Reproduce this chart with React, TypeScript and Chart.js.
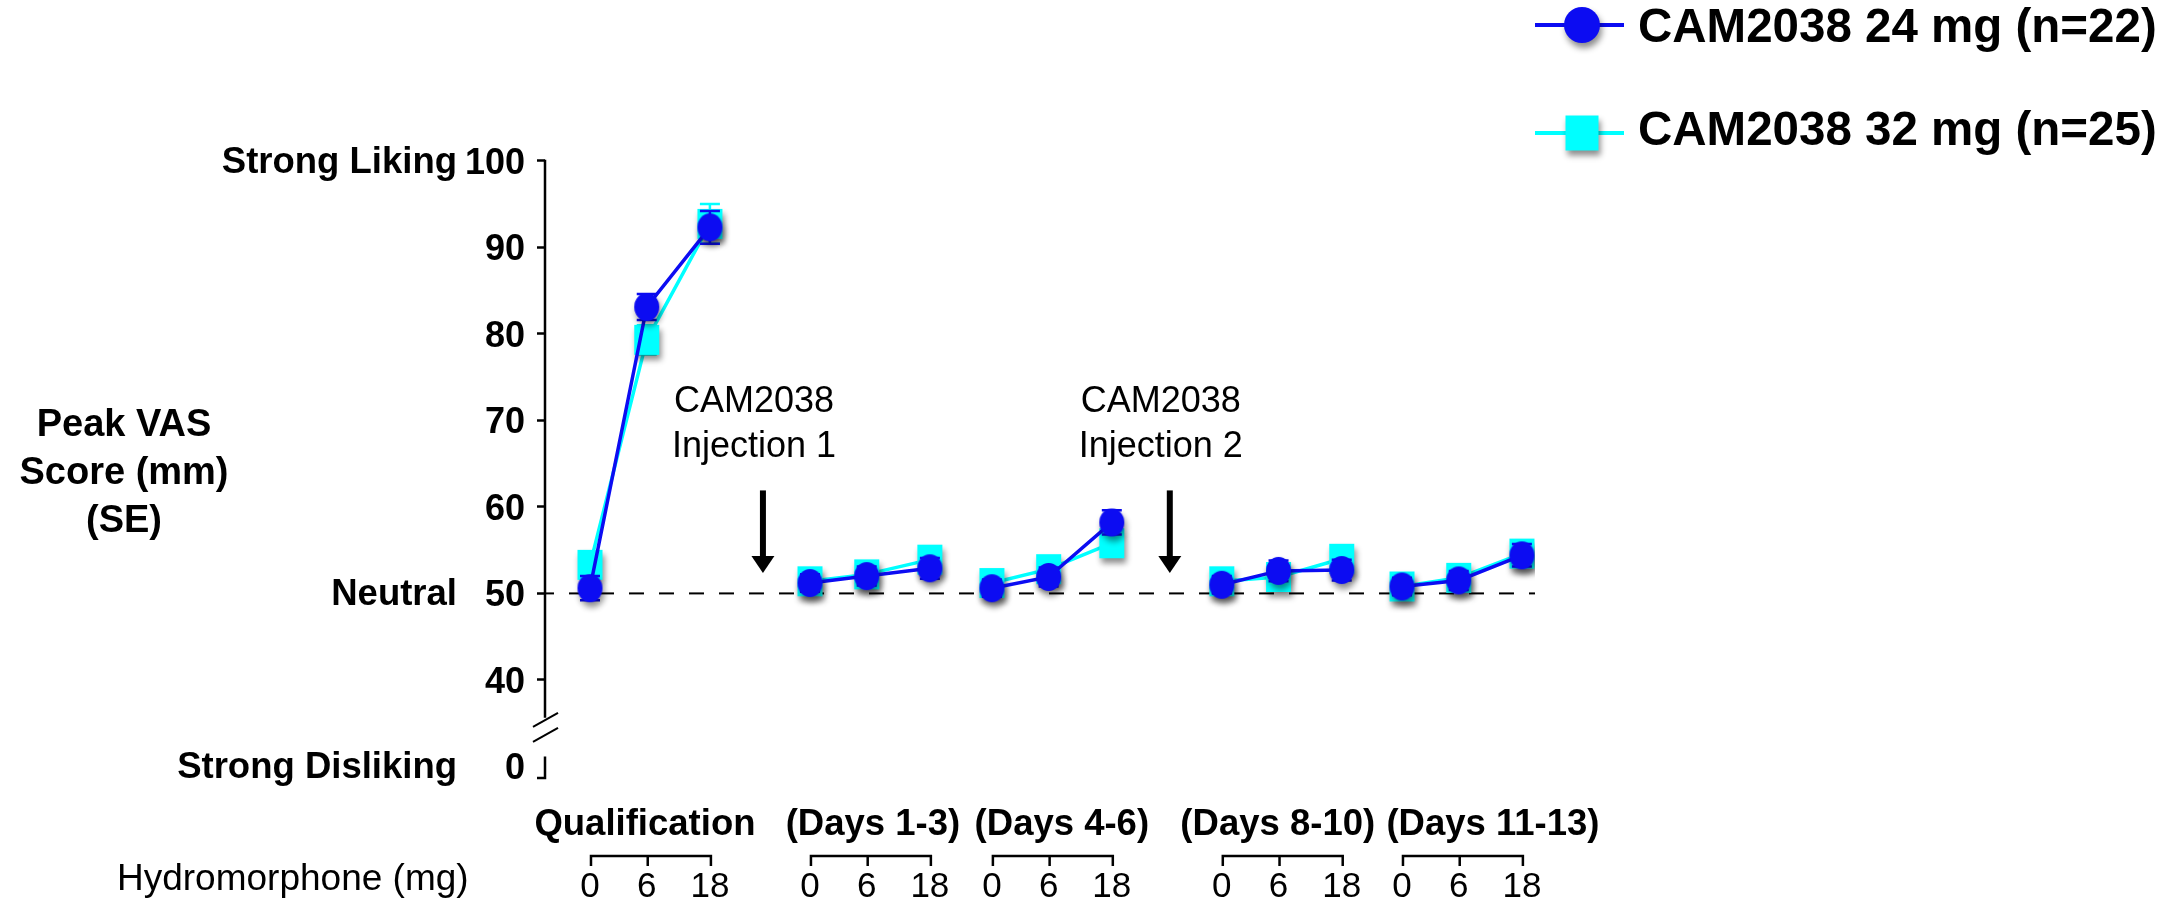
import React, { useEffect, useRef } from 'react';
import { Chart, registerables } from 'chart.js';

Chart.register(...registerables);

// ---------------- data ----------------
const seriesLabels = ['CAM2038 24 mg (n=22)', 'CAM2038 32 mg (n=25)'];
const groupLabels = ['Qualification', '(Days 1-3)', '(Days 4-6)', '(Days 8-10)', '(Days 11-13)'];
const doseLabels = ['0', '6', '18'];
// timeline slot of each session block and of each dose inside a block
const groupStart = [0, 3.76, 6.87, 10.8, 13.88];
const doseStep = [0, 0.97, 2.05];

const mean24 = [50.6, 83.1, 92.3, 51.2, 52.0, 52.9, 50.6, 51.9, 58.2, 51.0, 52.6, 52.7, 50.8, 51.5, 54.4];
const se24 = [1.4, 1.5, 1.9, 1.0, 1.1, 1.2, 1.0, 1.1, 1.4, 1.0, 1.2, 1.2, 1.0, 1.1, 1.3];
const mean32 = [53.3, 79.3, 92.7, 51.4, 52.2, 53.9, 51.2, 52.8, 55.8, 51.4, 51.9, 54.0, 50.8, 51.8, 54.6];
const se32 = [1.5, 1.7, 2.3, 1.1, 1.1, 1.3, 1.0, 1.2, 1.4, 1.1, 1.2, 1.3, 1.0, 1.1, 1.3];

const yTicks = [40, 50, 60, 70, 80, 90, 100];
const yAxisTitle = ['Peak VAS', 'Score (mm)', '(SE)'];
const sideLabels = ['Strong Liking', 'Neutral', 'Strong Disliking'];
const xAxisTitle = 'Hydromorphone (mg)';
const injectionText = [['CAM2038', 'Injection 1'], ['CAM2038', 'Injection 2']];
const injectionAfterGroup = [0, 2];
const neutralValue = 50;

// axis break: the "0" tick sits below the break
const yMin = 28.67;
const zeroTickAt = 30.06;
const breakTop = 35.4;
const breakBottom = 32.3;

// ---------------- style ----------------
const FAM = "'Liberation Sans', Arial, Helvetica, sans-serif";
const BLUE = '#0c0cf2';
const CYAN = '#00ffff';

function makeMarker(shape: string, w: number, h: number, color: string) {
  const pad = 12;
  const c = document.createElement('canvas');
  c.width = Math.round(w + pad * 2);
  c.height = Math.round(h + pad * 2);
  const g = c.getContext('2d')!;
  g.shadowColor = 'rgba(0,0,0,0.45)';
  g.shadowBlur = 6;
  g.shadowOffsetX = 2;
  g.shadowOffsetY = 5;
  g.fillStyle = color;
  if (shape === 'ellipse') {
    g.beginPath();
    g.ellipse(c.width / 2, c.height / 2, w / 2, h / 2, 0, 0, Math.PI * 2);
    g.fill();
  } else {
    g.fillRect(c.width / 2 - w / 2, c.height / 2 - h / 2, w, h);
  }
  return c;
}

function buildSeries(means: number[], ses: number[]) {
  const pts: any[] = [];
  groupLabels.forEach((_, g) => {
    doseLabels.forEach((__, d) => {
      const i = g * 3 + d;
      pts.push({ x: groupStart[g] + doseStep[d], y: means[i], se: ses[i] });
    });
    pts.push({ x: groupStart[g] + doseStep[2] + 0.4, y: null });
  });
  return pts;
}

const tickPositions: number[] = [];
groupStart.forEach((g) => doseStep.forEach((d) => tickPositions.push(g + d)));

const errorBarPlugin = {
  id: 'errorBars',
  beforeDatasetDraw(chart: any, args: any) {
    const ds = chart.data.datasets[args.index];
    const { ctx } = chart;
    const xs = chart.scales.x;
    const ys = chart.scales.y;
    ctx.save();
    ctx.strokeStyle = ds.borderColor;
    ctx.lineWidth = 2.5;
    ds.data.forEach((p: any) => {
      if (p.y === null || p.y === undefined) return;
      const x = xs.getPixelForValue(p.x);
      const t = ys.getPixelForValue(p.y + p.se);
      const b = ys.getPixelForValue(p.y - p.se);
      ctx.beginPath();
      ctx.moveTo(x, t);
      ctx.lineTo(x, b);
      ctx.moveTo(x - 10, t);
      ctx.lineTo(x + 10, t);
      ctx.moveTo(x - 10, b);
      ctx.lineTo(x + 10, b);
      ctx.stroke();
    });
    ctx.restore();
  },
};

function makeDecorPlugin(legendMarkers: HTMLCanvasElement[]) {
  return {
    id: 'decor',
    beforeDatasetsDraw(chart: any) {
      const { ctx, chartArea } = chart;
      const ys = chart.scales.y;
      const ax = chartArea.left;
      ctx.save();
      // neutral dashed line
      const yn = ys.getPixelForValue(neutralValue);
      ctx.strokeStyle = '#000';
      ctx.lineWidth = 2;
      ctx.setLineDash([15, 15]);
      ctx.lineDashOffset = 6;
      ctx.beginPath();
      ctx.moveTo(ax, yn);
      ctx.lineTo(chartArea.right, yn);
      ctx.stroke();
      ctx.setLineDash([]);
      // broken y axis
      ctx.lineWidth = 2.5;
      const yTop = ys.getPixelForValue(100);
      const yb1 = ys.getPixelForValue(breakTop);
      const yb2 = ys.getPixelForValue(breakBottom);
      const yEnd = chartArea.bottom;
      ctx.beginPath();
      ctx.moveTo(ax, yTop - 1);
      ctx.lineTo(ax, yb1 - 2);
      ctx.moveTo(ax, yb2 + 10);
      ctx.lineTo(ax, yEnd);
      ctx.lineTo(ax - 8, yEnd);
      ctx.stroke();
      // break slashes
      ctx.lineWidth = 2;
      [yb1, yb1 + 15].forEach((yy) => {
        ctx.beginPath();
        ctx.moveTo(ax - 12, yy + 7);
        ctx.lineTo(ax + 13, yy - 7);
        ctx.stroke();
      });
      ctx.restore();
    },
    afterDraw(chart: any) {
      const { ctx } = chart;
      const xs = chart.scales.x;
      const ys = chart.scales.y;
      ctx.save();
      ctx.fillStyle = '#000';
      ctx.strokeStyle = '#000';

      // y axis title
      ctx.font = `bold 38px ${FAM}`;
      ctx.textAlign = 'center';
      ctx.textBaseline = 'middle';
      yAxisTitle.forEach((t, i) => ctx.fillText(t, 124, 426 + i * 48));

      // side labels
      ctx.font = `bold 36.5px ${FAM}`;
      ctx.textAlign = 'right';
      const sideVals = [100, 50, zeroTickAt];
      sideLabels.forEach((t, i) => ctx.fillText(t, 457, ys.getPixelForValue(sideVals[i]) + 2));

      // injection arrows and labels
      injectionAfterGroup.forEach((g, k) => {
        const xa = (groupStart[g] + doseStep[2] + groupStart[g + 1]) / 2;
        const px = xs.getPixelForValue(xa) + 3;
        const tx = xs.getPixelForValue(xa) - 6;
        const y0 = ys.getPixelForValue(61.9);
        const tip = ys.getPixelForValue(52.35);
        ctx.lineWidth = 6;
        ctx.beginPath();
        ctx.moveTo(px, y0);
        ctx.lineTo(px, tip - 12);
        ctx.stroke();
        ctx.beginPath();
        ctx.moveTo(px - 11.5, tip - 17);
        ctx.lineTo(px + 11.5, tip - 17);
        ctx.lineTo(px, tip);
        ctx.closePath();
        ctx.fill();
        ctx.font = `36px ${FAM}`;
        ctx.textAlign = 'center';
        ctx.textBaseline = 'middle';
        ctx.fillText(injectionText[k][0], tx, ys.getPixelForValue(72.1));
        ctx.fillText(injectionText[k][1], tx, ys.getPixelForValue(66.9));
      });

      // group brackets and labels
      const labelShift = [-6, 2, 9, -5, 30];
      groupLabels.forEach((t, g) => {
        const x0 = xs.getPixelForValue(groupStart[g] + doseStep[0]) + 1;
        const x1 = xs.getPixelForValue(groupStart[g] + doseStep[1]) + 1;
        const x2 = xs.getPixelForValue(groupStart[g] + doseStep[2]) + 1;
        const yb = 856;
        ctx.lineWidth = 2.5;
        ctx.beginPath();
        ctx.moveTo(x0, yb + 10);
        ctx.lineTo(x0, yb);
        ctx.lineTo(x2, yb);
        ctx.lineTo(x2, yb + 10);
        ctx.moveTo(x1, yb);
        ctx.lineTo(x1, yb + 10);
        ctx.stroke();
        ctx.font = `bold 36.5px ${FAM}`;
        ctx.textAlign = 'center';
        ctx.textBaseline = 'middle';
        ctx.fillText(t, (x0 + x2) / 2 + labelShift[g], 825);
      });

      // x axis title
      ctx.font = `37px ${FAM}`;
      ctx.textAlign = 'left';
      ctx.textBaseline = 'middle';
      ctx.fillText(xAxisTitle, 117, 880);

      // legend
      const rows = [
        { y: 25, color: BLUE, marker: legendMarkers[0], ty: 29 },
        { y: 133, color: CYAN, marker: legendMarkers[1], ty: 132 },
      ];
      rows.forEach((r, i) => {
        ctx.strokeStyle = r.color;
        ctx.lineWidth = 4;
        ctx.beginPath();
        ctx.moveTo(1535, r.y);
        ctx.lineTo(1624, r.y);
        ctx.stroke();
        ctx.drawImage(r.marker, 1582 - r.marker.width / 2, r.y - r.marker.height / 2);
        ctx.fillStyle = '#000';
        ctx.font = `bold 47.5px ${FAM}`;
        ctx.textAlign = 'left';
        ctx.textBaseline = 'middle';
        ctx.fillText(seriesLabels[i], 1638, r.ty);
      });
      ctx.restore();
    },
  };
}

export default function App() {
  const ref = useRef<HTMLCanvasElement | null>(null);

  useEffect(() => {
    const canvas = ref.current!;
    const blueImg = makeMarker('ellipse', 25, 28, BLUE);
    const cyanImg = makeMarker('rect', 25, 30, CYAN);
    const legBlue = makeMarker('ellipse', 36, 36, BLUE);
    const legCyan = makeMarker('rect', 33, 35, CYAN);

    const chart = new Chart(canvas, {
      type: 'line',
      data: {
        datasets: [
          {
            label: seriesLabels[0],
            data: buildSeries(mean24, se24),
            borderColor: BLUE,
            backgroundColor: BLUE,
            borderWidth: 3.5,
            pointStyle: blueImg as any,
            pointRadius: 13,
            pointHoverRadius: 13,
            tension: 0,
            spanGaps: false,
            fill: false,
          },
          {
            label: seriesLabels[1],
            data: buildSeries(mean32, se32),
            borderColor: CYAN,
            backgroundColor: CYAN,
            borderWidth: 3.5,
            pointStyle: cyanImg as any,
            pointRadius: 13,
            pointHoverRadius: 13,
            tension: 0,
            spanGaps: false,
            fill: false,
          },
        ] as any,
      },
      options: {
        responsive: false,
        animation: false,
        devicePixelRatio: 1,
        events: [],
        layout: { padding: { top: 160.7, right: 642, bottom: 0, left: 0 } },
        plugins: { legend: { display: false }, tooltip: { enabled: false } },
        scales: {
          x: {
            type: 'linear',
            min: -0.769,
            max: 16.154,
            grid: { display: false, drawTicks: false },
            border: { display: false },
            afterBuildTicks: (s: any) => {
              s.ticks = tickPositions.map((v) => ({ value: v }));
            },
            afterFit: (s: any) => {
              s.height = 129;
            },
            ticks: {
              autoSkip: false,
              maxRotation: 0,
              minRotation: 0,
              padding: 88.5,
              color: '#000',
              font: { family: FAM, size: 35 },
              callback: (_v: any, i: number) => doseLabels[i % 3],
            },
          },
          y: {
            type: 'linear',
            min: yMin,
            max: 100,
            afterBuildTicks: (s: any) => {
              s.ticks = [zeroTickAt, ...yTicks].map((v) => ({ value: v }));
            },
            afterFit: (s: any) => {
              s.width = 545;
            },
            grid: {
              drawOnChartArea: false,
              tickLength: 8,
              tickWidth: 2.5,
              tickColor: (c: any) => (c.tick && c.tick.value < 35 ? 'rgba(0,0,0,0)' : '#000'),
            },
            border: { display: false },
            ticks: {
              padding: 12,
              labelOffset: 3,
              color: '#000',
              font: { family: FAM, size: 36, weight: 'bold' },
              callback: (v: any) => (v < 35 ? '0' : String(v)),
            },
          },
        },
      } as any,
      plugins: [errorBarPlugin, makeDecorPlugin([legBlue, legCyan])],
    });
    return () => chart.destroy();
  }, []);

  return (
    <div style={{ position: 'fixed', left: 0, top: 0, width: 2177, height: 907, background: '#fff' }}>
      <canvas ref={ref} width={2177} height={907} style={{ display: 'block', width: 2177, height: 907 }} />
    </div>
  );
}
